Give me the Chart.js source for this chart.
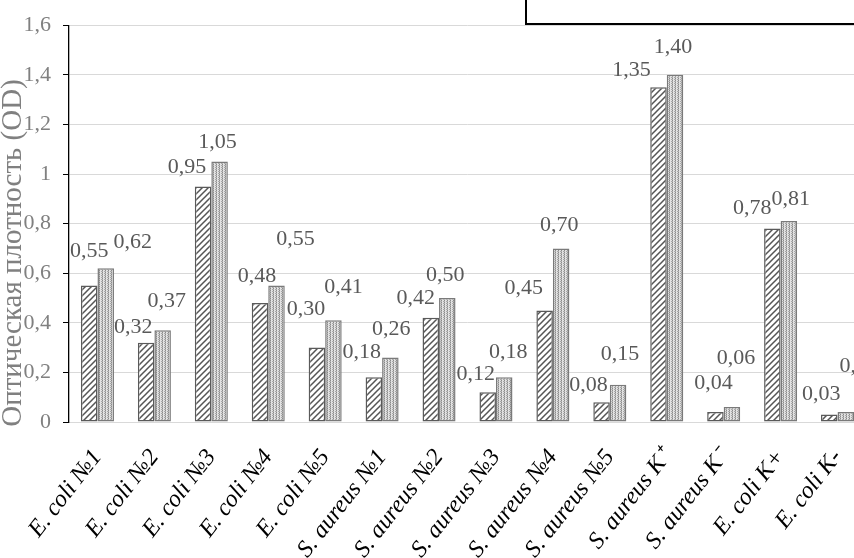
<!DOCTYPE html>
<html>
<head>
<meta charset="utf-8">
<script src="https://cdn.jsdelivr.net/npm/chart.js@4.4.1/dist/chart.umd.min.js"></script>
<style>
  html, body { margin: 0; padding: 0; background: #fff; overflow: hidden; }
  #wrap { width: 854px; height: 558px; overflow: hidden; position: relative; }
  #c { display: block; }
</style>
</head>
<body>
<div id="wrap"><canvas id="c" width="870" height="558"></canvas></div>
<script>
// ---- data ----
const categories = [
  "E. coli №1", "E. coli №2", "E. coli №3", "E. coli №4", "E. coli №5",
  "S. aureus №1", "S. aureus №2", "S. aureus №3", "S. aureus №4", "S. aureus №5",
  "S. aureus K⁺", "S. aureus K⁻", "E. coli K+", "E. coli K-"
];
const seriesA = [0.55, 0.32, 0.95, 0.48, 0.30, 0.18, 0.42, 0.12, 0.45, 0.08, 1.35, 0.04, 0.78, 0.03];
const seriesB = [0.62, 0.37, 1.05, 0.55, 0.41, 0.26, 0.50, 0.18, 0.70, 0.15, 1.40, 0.06, 0.81, 0.04];
const yTicks = [0, 0.2, 0.4, 0.6, 0.8, 1, 1.2, 1.4, 1.6];
const yTitle = "Оптическая плотность (OD)";

// label nudges (pixels, relative to bar top centre) – layout only
const nudgeA = [[0,-34],[-13,-15],[-16,-19],[-3,-27],[-11,-38],[-12,-25],[-15,-20],[-12,-18],[-21,-22],[-13,-17],[-27,-17],[-2,-29],[-20,-20],[-8,-20]];
const nudgeB = [[27,-26],[4,-29],[-2,-19],[19,-46],[10,-33],[1,-28],[-2,-23],[4,-25],[-2,-23],[2,-31],[-2,-28],[4,-49],[2,-22],[13,-46]];

const SERIF = "'Liberation Serif', 'Times New Roman', serif";

function hatchPattern() {
  const c = document.createElement('canvas');
  c.width = 6; c.height = 6;
  const g = c.getContext('2d');
  g.fillStyle = '#fff'; g.fillRect(0, 0, 6, 6);
  g.strokeStyle = '#555'; g.lineWidth = 1.5;
  g.beginPath();
  g.moveTo(-1, 7); g.lineTo(7, -1);
  g.moveTo(-4, 4); g.lineTo(4, -4);
  g.moveTo(2, 10); g.lineTo(10, 2);
  g.stroke();
  return g.createPattern(c, 'repeat');
}
function dotPattern() {
  const c = document.createElement('canvas');
  c.width = 3; c.height = 2;
  const g = c.getContext('2d');
  g.fillStyle = '#e2e2e2'; g.fillRect(0, 0, 3, 2);
  g.fillStyle = '#8a8a8a'; g.fillRect(0, 0, 1, 1);
  g.fillStyle = '#b4b4b4'; g.fillRect(0, 1, 1, 1);
  g.fillStyle = '#a8a8a8'; g.fillRect(2, 1, 1, 1);
  return g.createPattern(c, 'repeat');
}

function fmt(v) {
  return v.toFixed(2).replace('.', ',');
}

const labelPlugin = {
  id: 'labels',
  afterDatasetsDraw(chart) {
    const ctx = chart.ctx;
    ctx.save();
    ctx.font = "22px " + SERIF;
    ctx.fillStyle = '#595959';
    ctx.textAlign = 'center';
    ctx.textBaseline = 'middle';
    [nudgeA, nudgeB].forEach((nudge, di) => {
      const meta = chart.getDatasetMeta(di);
      meta.data.forEach((bar, i) => {
        const v = chart.data.datasets[di].data[i];
        ctx.fillText(fmt(v), bar.x + nudge[i][0], bar.y + nudge[i][1]);
      });
    });
    ctx.restore();
  }
};

const decoPlugin = {
  id: 'deco',
  afterDraw(chart) {
    const ctx = chart.ctx;
    ctx.save();
    // y axis title
    ctx.translate(13, 253);
    ctx.rotate(-Math.PI / 2);
    ctx.font = "29px " + SERIF;
    ctx.fillStyle = '#808080';
    ctx.textAlign = 'center';
    ctx.textBaseline = 'middle';
    ctx.fillText(yTitle, 0, 0);
    ctx.restore();
    // legend frame (cut off at the top)
    ctx.save();
    ctx.fillStyle = '#fff';
    ctx.fillRect(526, -10, 400, 34);
    ctx.strokeStyle = '#000';
    ctx.lineWidth = 2;
    ctx.strokeRect(526, -10, 400, 34);
    ctx.restore();
  }
};

new Chart(document.getElementById('c'), {
  type: 'bar',
  data: {
    labels: categories,
    datasets: [
      { label: 'A', data: seriesA, backgroundColor: hatchPattern(), borderColor: '#5a5a5a', borderWidth: 1.5, borderSkipped: false },
      { label: 'B', data: seriesB, backgroundColor: dotPattern(), borderColor: '#7a7a7a', borderWidth: 1.5, borderSkipped: false }
    ]
  },
  options: {
    responsive: false,
    animation: false,
    devicePixelRatio: 1,
    layout: { padding: { top: 23, right: 4, left: 0, bottom: 0 } },
    datasets: { bar: { categoryPercentage: 0.58, barPercentage: 1.0 } },
    plugins: { legend: { display: false }, tooltip: { enabled: false } },
    scales: {
      x: {
        grid: { display: false, drawTicks: false },
        border: { color: '#d9d9d9', width: 1 },
        ticks: {
          autoSkip: false, minRotation: 52, maxRotation: 52, padding: 22,
          color: '#000', font: { family: SERIF, size: 24, style: 'italic' }
        },
        afterFit(scale) { scale.height = 136; scale.paddingLeft = 0; scale.paddingRight = 0; }
      },
      y: {
        min: 0, max: 1.6,
        afterBuildTicks(scale) { scale.ticks = yTicks.map(v => ({ value: v })); },
        grid: { color: '#d9d9d9', lineWidth: 1, tickColor: '#000', tickLength: 6 },
        border: { color: '#000', width: 1.3 },
        ticks: {
          padding: 12, color: '#808080',
          font: { family: SERIF, size: 22 },
          callback: v => (Number.isInteger(v) ? String(v) : v.toFixed(1).replace('.', ','))
        },
        afterFit(scale) { scale.width = 69; }
      }
    }
  },
  plugins: [labelPlugin, decoPlugin]
});
</script>
</body>
</html>
